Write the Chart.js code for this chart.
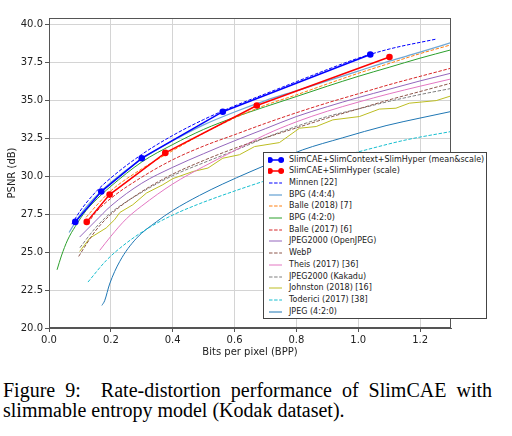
<!DOCTYPE html>
<html><head><meta charset="utf-8">
<script src="https://cdn.jsdelivr.net/npm/chart.js@4.4.1/dist/chart.umd.min.js"></script>
<style>
html,body{margin:0;padding:0;background:#fff;width:512px;height:436px;overflow:hidden;position:relative;}
#wrap{position:absolute;left:0;top:0;width:512px;height:362px;}
#legend{position:absolute;left:263px;top:152px;width:222px;height:165px;border:1px solid #444;background:#fff;font-family:"DejaVu Sans";font-size:8px;color:#222;}
.row{position:absolute;left:0;width:220px;height:12px;line-height:12px;white-space:nowrap;}
.row svg{position:absolute;left:4px;top:2px;}
.row span{position:absolute;left:25px;top:0;}
#caption{position:absolute;left:3px;top:380px;width:489px;font-family:"Liberation Serif";font-size:20px;line-height:20px;text-align:justify;color:#000;}
</style></head>
<body>
<div id="wrap"><canvas id="c" width="512" height="362"></canvas></div>
<div id="legend"></div>
<div id="caption">Figure 9:&nbsp; Rate-distortion performance of SlimCAE with slimmable entropy model (Kodak dataset).</div>
<script>
// ---- data ----
const xTicks = [0.0, 0.2, 0.4, 0.6, 0.8, 1.0, 1.2];
const yTicks = [20.0, 22.5, 25.0, 27.5, 30.0, 32.5, 35.0, 37.5, 40.0];
const seriesNames = [
  "SlimCAE+SlimContext+SlimHyper (mean&scale)",
  "SlimCAE+SlimHyper (scale)",
  "Minnen [22]",
  "BPG (4:4:4)",
  "Balle (2018) [7]",
  "BPG (4:2:0)",
  "Balle (2017) [6]",
  "JPEG2000 (OpenJPEG)",
  "WebP",
  "Theis (2017) [36]",
  "JPEG2000 (Kakadu)",
  "Johnston (2018) [16]",
  "Toderici (2017) [38]",
  "JPEG (4:2:0)"
];
const slimFull = [[0.085,27.0],[0.169,29.0],[0.300,31.2],[0.562,34.27],[1.039,38.04]];
const slimHyper = [[0.122,27.0],[0.196,28.8],[0.376,31.55],[0.672,34.68],[1.101,37.88]];
const minnen = [[0.074,26.85],[0.10,27.7],[0.15,28.95],[0.20,29.9],[0.30,31.45],[0.40,32.7],[0.50,33.75],[0.60,34.65],[0.70,35.45],[0.80,36.25],[0.90,37.05],[1.00,37.8],[1.10,38.4],[1.25,39.05]];
const bpg444 = [[0.065,26.3],[0.10,27.45],[0.15,28.65],[0.20,29.6],[0.30,31.15],[0.40,32.35],[0.50,33.4],[0.60,34.25],[0.70,35.0],[0.80,35.65],[0.90,36.3],[1.00,36.95],[1.10,37.6],[1.20,38.2],[1.30,38.83]];
const balle2018 = [[0.12,27.3],[0.15,28.0],[0.20,29.05],[0.30,30.5],[0.40,31.7],[0.50,32.85],[0.60,33.85],[0.70,34.7],[0.80,35.38],[0.90,36.1],[1.00,36.8],[1.10,37.45],[1.20,38.1],[1.30,38.68]];
const bpg420 = [[0.026,23.84],[0.04,24.75],[0.06,25.8],[0.085,26.7],[0.12,27.75],[0.17,28.8],[0.20,29.35],[0.30,30.95],[0.40,32.1],[0.50,33.1],[0.60,33.9],[0.70,34.6],[0.80,35.27],[0.90,35.95],[1.00,36.6],[1.10,37.2],[1.20,37.8],[1.30,38.35]];
const balle2017 = [[0.125,26.9],[0.15,27.6],[0.20,28.55],[0.30,29.95],[0.40,31.1],[0.50,32.0],[0.60,32.75],[0.70,33.5],[0.80,34.2],[0.90,34.85],[1.00,35.45],[1.10,36.05],[1.20,36.6],[1.30,37.14]];
const jp2kOpen = [[0.099,26.0],[0.15,27.05],[0.20,28.05],[0.30,29.55],[0.40,30.6],[0.50,31.5],[0.60,32.35],[0.70,33.15],[0.80,33.95],[0.90,34.6],[1.00,35.2],[1.10,35.75],[1.20,36.3],[1.30,36.81]];
const webp = [[0.096,24.72],[0.12,25.5],[0.15,26.4],[0.20,27.5],[0.30,29.0],[0.40,30.15],[0.50,31.05],[0.60,31.85],[0.70,32.55],[0.80,33.2],[0.90,33.85],[1.00,34.45],[1.10,35.05],[1.20,35.6],[1.30,36.15]];
const theis = [[0.164,25.12],[0.20,26.05],[0.25,27.2],[0.30,28.05],[0.40,29.5],[0.50,30.65],[0.60,31.7],[0.70,32.75],[0.80,33.6],[0.90,34.3],[1.00,34.9],[1.10,35.45],[1.20,35.95],[1.30,36.43]];
const jp2kKakadu = [[0.10,25.3],[0.15,26.6],[0.20,27.6],[0.30,28.95],[0.40,30.05],[0.50,30.9],[0.60,31.7],[0.70,32.55],[0.80,33.3],[0.90,33.95],[1.00,34.45],[1.10,34.95],[1.20,35.4],[1.30,35.8]];
const johnston = [[0.099,25.05],[0.132,25.93],[0.185,26.6],[0.212,27.14],[0.229,27.62],[0.271,28.13],[0.315,28.9],[0.368,29.45],[0.40,29.85],[0.465,30.32],[0.514,30.55],[0.562,31.2],[0.616,31.43],[0.665,31.97],[0.745,32.23],[0.81,33.18],[0.864,33.29],[0.918,33.73],[1.004,33.95],[1.068,34.44],[1.122,34.5],[1.165,34.83],[1.252,35.0],[1.30,35.31]];
const toderici = [[0.126,23.03],[0.185,24.45],[0.25,25.6],[0.326,26.65],[0.40,27.45],[0.487,28.2],[0.595,29.0],[0.691,29.66],[0.80,30.4],[0.90,31.05],[1.025,31.75],[1.155,32.41],[1.30,32.96]];
const jpeg420 = [[0.171,21.49],[0.18,21.8],[0.196,22.9],[0.229,24.4],[0.282,25.9],[0.347,27.0],[0.40,27.75],[0.487,28.75],[0.562,29.5],[0.65,30.3],[0.73,31.0],[0.82,31.75],[0.95,32.55],[1.09,33.35],[1.20,33.85],[1.30,34.28]];
const seriesData = [slimFull, slimHyper, minnen, bpg444, balle2018, bpg420, balle2017, jp2kOpen, webp, theis, jp2kKakadu, johnston, toderici, jpeg420];

// ---- styles ----
const DASH = [3.5, 1.6];
const styles = [
  {color:"#0000ff", width:1.5, dash:[], marker:true, smooth:false},
  {color:"#ff0000", width:1.5, dash:[], marker:true, smooth:false},
  {color:"#0000ff", width:1, dash:DASH, marker:false, smooth:true},
  {color:"#6fa8d6", width:1.3, dash:[], marker:false, smooth:true},
  {color:"#ff7f0e", width:1, dash:DASH, marker:false, smooth:true},
  {color:"#2ca02c", width:1, dash:[], marker:false, smooth:true},
  {color:"#d62728", width:1, dash:DASH, marker:false, smooth:true},
  {color:"#9467bd", width:1, dash:[], marker:false, smooth:true},
  {color:"#8c564b", width:1, dash:DASH, marker:false, smooth:true},
  {color:"#e377c2", width:1, dash:[], marker:false, smooth:true},
  {color:"#7f7f7f", width:1, dash:DASH, marker:false, smooth:true},
  {color:"#bcbd22", width:1, dash:[], marker:false, smooth:false},
  {color:"#17becf", width:1, dash:DASH, marker:false, smooth:true},
  {color:"#1f77b4", width:1, dash:[], marker:false, smooth:true}
];

const datasets = seriesData.map((d, i) => {
  const s = styles[i];
  return {
    label: seriesNames[i],
    data: d.map(p => ({x: p[0], y: p[1]})),
    borderColor: s.color,
    backgroundColor: s.color,
    borderWidth: s.width,
    borderDash: s.dash,
    pointRadius: s.marker ? 3.3 : 0,
    pointHoverRadius: s.marker ? 3.3 : 0,
    pointBorderWidth: 0,
    pointBackgroundColor: s.color,
    tension: 0,
    cubicInterpolationMode: s.smooth ? 'monotone' : 'default',
    fill: false
  };
});

const frame = {
  id: 'frame',
  afterDatasetsDraw(chart) {
    const a = chart.chartArea, ctx = chart.ctx;
    ctx.save();
    ctx.strokeStyle = '#555';
    ctx.lineWidth = 1;
    ctx.strokeRect(Math.round(a.left) + 0.5, Math.round(a.top) + 0.5, Math.round(a.right - a.left) - 1, Math.round(a.bottom - a.top) - 1);
    ctx.restore();
  }
};

const tickFont = {family: "DejaVu Sans", size: 10};
new Chart(document.getElementById('c'), {
  type: 'line',
  data: {datasets},
  plugins: [frame],
  options: {
    responsive: false,
    animation: false,
    devicePixelRatio: 1,
    layout: {padding: {top: 18, right: 61, left: 0, bottom: 0}},
    plugins: {legend: {display: false}, tooltip: {enabled: false}},
    scales: {
      x: {
        type: 'linear', min: 0, max: 1.3,
        afterBuildTicks: s => { s.ticks = xTicks.map(v => ({value: v})); },
        afterFit: s => { s.height = 34; },
        ticks: {font: tickFont, color: '#222', padding: 2, maxRotation: 0, callback: v => Number(v).toFixed(1)},
        grid: {color: '#d4d4d4', lineWidth: 1, tickColor: '#555', tickLength: 4},
        border: {display: true, color: '#555', width: 1},
        title: {display: true, text: 'Bits per pixel (BPP)', font: tickFont, color: '#222', padding: {top: 0, bottom: 4}}
      },
      y: {
        type: 'linear', min: 20, max: 40.45,
        afterBuildTicks: s => { s.ticks = yTicks.map(v => ({value: v})); },
        afterFit: s => { s.width = 49; },
        ticks: {font: tickFont, color: '#222', padding: 2, callback: v => Number(v).toFixed(1)},
        grid: {color: '#d4d4d4', lineWidth: 1, tickColor: '#555', tickLength: 4},
        border: {display: true, color: '#555', width: 1},
        title: {display: true, text: 'PSNR (dB)', font: tickFont, color: '#222', padding: {top: 6, bottom: 0}}
      }
    }
  }
});

// ---- legend (HTML, built from the same arrays) ----
const lg = document.getElementById('legend');
seriesNames.forEach((name, i) => {
  const s = styles[i];
  const row = document.createElement('div');
  row.className = 'row';
  row.style.top = (0.5 + i * 11.7) + 'px';
  const dash = s.dash.length ? ` stroke-dasharray="${s.dash.join(',')}"` : '';
  let svg = `<svg width="16" height="8" viewBox="0 0 16 8"><line x1="1" y1="4" x2="14" y2="4" stroke="${s.color}" stroke-width="${s.width}"${dash}/>`;
  if (s.marker) svg += `<circle cx="1.8" cy="4" r="3" fill="${s.color}"/><circle cx="13.2" cy="4" r="3" fill="${s.color}"/>`;
  svg += `</svg>`;
  row.innerHTML = svg + `<span>${name.replace('&', '&amp;')}</span>`;
  lg.appendChild(row);
});
</script>
</body></html>
